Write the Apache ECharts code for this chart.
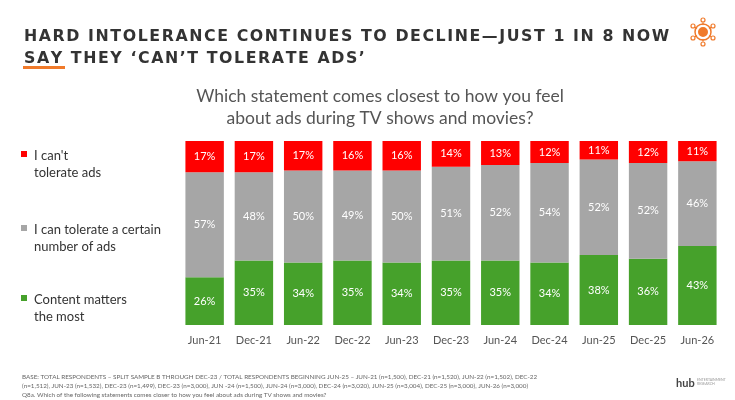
<!DOCTYPE html>
<html><head><meta charset="utf-8">
<script src="https://cdn.jsdelivr.net/npm/echarts@6/dist/echarts.min.js"></script>
<style>html,body{margin:0;padding:0;background:#fff}#c{width:735px;height:400px}</style>
</head><body><div id="c"></div>
<script>
// survey waves
var waves = ['Jun-21','Dec-21','Jun-22','Dec-22','Jun-23','Dec-23','Jun-24','Dec-24','Jun-25','Dec-25','Jun-26'];
// % of respondents per answer
var contentMatters = [26,35,34,35,34,35,35,34,38,36,43];
var tolerateSome = [57,48,50,49,50,51,52,54,52,52,46];
var cantTolerate = [17,17,17,16,16,14,13,12,11,12,11];

var chart = echarts.init(document.getElementById('c'));
var lbl = {show:true, color:'#fff', fontSize:11, fontFamily:'Lato', formatter:'{c}%'};
function bar(name, data, color){
  return {name:name, type:'bar', stack:'s', data:data, barCategoryGap:'22%',
    itemStyle:{color:color}, label:lbl};
}
// spread letters out like the slide's tracked heading
function spaced(s){ return s.split('').join('\u200A'); }
var title = spaced('HARD INTOLERANCE CONTINUES TO DECLINE—JUST 1 IN 8 NOW') + '\n' + spaced('SAY THEY ‘CAN’T TOLERATE ADS’');
var foot = 'BASE: TOTAL RESPONDENTS – SPLIT SAMPLE B THROUGH DEC-23 / TOTAL RESPONDENTS BEGINNING JUN-25 – JUN-21 (n=1,500), DEC-21 (n=1,520), JUN-22 (n=1,502), DEC-22\n' +
  '(n=1,512), JUN-23 (n=1,532), DEC-23 (n=1,499), DEC-23 (n=3,000), JUN -24 (n=1,500), JUN-24 (n=3,000), DEC-24 (n=3,020), JUN-25 (n=3,004), DEC-25 (n=3,000), JUN-26 (n=3,000)\n' +
  'Q8a. Which of the following statements comes closer to how you feel about ads during TV shows and movies?';
var icon = [];
[[0,-12],[0,12],[-10,-6],[10,-6],[-10,6],[10,6]].forEach(function(p){
  icon.push({type:'line', shape:{x1:703, y1:32, x2:703+p[0]*0.8, y2:32+p[1]*0.8}, style:{stroke:'#f07a2a', lineWidth:1.2}});
  icon.push({type:'circle', shape:{cx:703+p[0], cy:32+p[1], r:2}, style:{fill:'#fff', stroke:'#f07a2a', lineWidth:1.2}});
});
chart.setOption({
  animation:false,
  grid:{left:180, right:13, top:141, bottom:75},
  xAxis:{type:'category', data:waves, axisLine:{show:false}, axisTick:{show:false},
    axisLabel:{color:'#555', fontSize:11, fontFamily:'Lato', margin:10}},
  yAxis:{type:'value', min:0, max:100, show:false},
  series:[bar('Content matters the most', contentMatters, '#46a12b'),
          bar('I can tolerate a certain number of ads', tolerateSome, '#a6a6a6'),
          bar("I can't tolerate ads", cantTolerate, '#ff0000')],
  graphic:icon.concat([
    {type:'text', left:24, top:26, style:{text:title,
      fill:'#333', font:'bold 15.8px "DejaVu Sans"', lineHeight:22}},
    {type:'rect', shape:{x:23, y:66, width:42, height:3}, style:{fill:'#f07a2a'}},
    {type:'circle', shape:{cx:703, cy:32, r:6}, style:{fill:'#f07a2a', stroke:'#fff', lineWidth:2}},
    {type:'circle', shape:{cx:703, cy:32, r:8}, style:{fill:'none', stroke:'#f07a2a', lineWidth:1.5}},
    {type:'text', x:380, y:85, style:{text:'Which statement comes closest to how you feel\nabout ads during TV shows and movies?',
      fill:'#555', font:'17.5px Lato', lineHeight:22, align:'center'}},
    {type:'rect', shape:{x:21, y:151, width:6, height:6}, style:{fill:'#ff0000'}},
    {type:'text', left:34, top:147, style:{text:"I can't\ntolerate ads", fill:'#333', font:'13px Lato', lineHeight:17}},
    {type:'rect', shape:{x:21, y:225, width:6, height:6}, style:{fill:'#a6a6a6'}},
    {type:'text', left:34, top:221, style:{text:'I can tolerate a certain\nnumber of ads', fill:'#333', font:'13px Lato', lineHeight:17}},
    {type:'rect', shape:{x:21, y:295, width:6, height:6}, style:{fill:'#46a12b'}},
    {type:'text', left:34, top:291, style:{text:'Content matters\nthe most', fill:'#333', font:'13px Lato', lineHeight:17}},
    {type:'text', left:22, top:372, style:{text:foot, fill:'#666', font:'6.3px Lato', lineHeight:9}},
    {type:'text', left:676, top:378, style:{text:'hub', fill:'#444', font:'bold 11px Lato'}},
    {type:'text', left:697, top:378, style:{text:'ENTERTAINMENT\nRESEARCH', fill:'#999', font:'3.5px Lato', lineHeight:4}}
  ])
});
</script></body></html>
